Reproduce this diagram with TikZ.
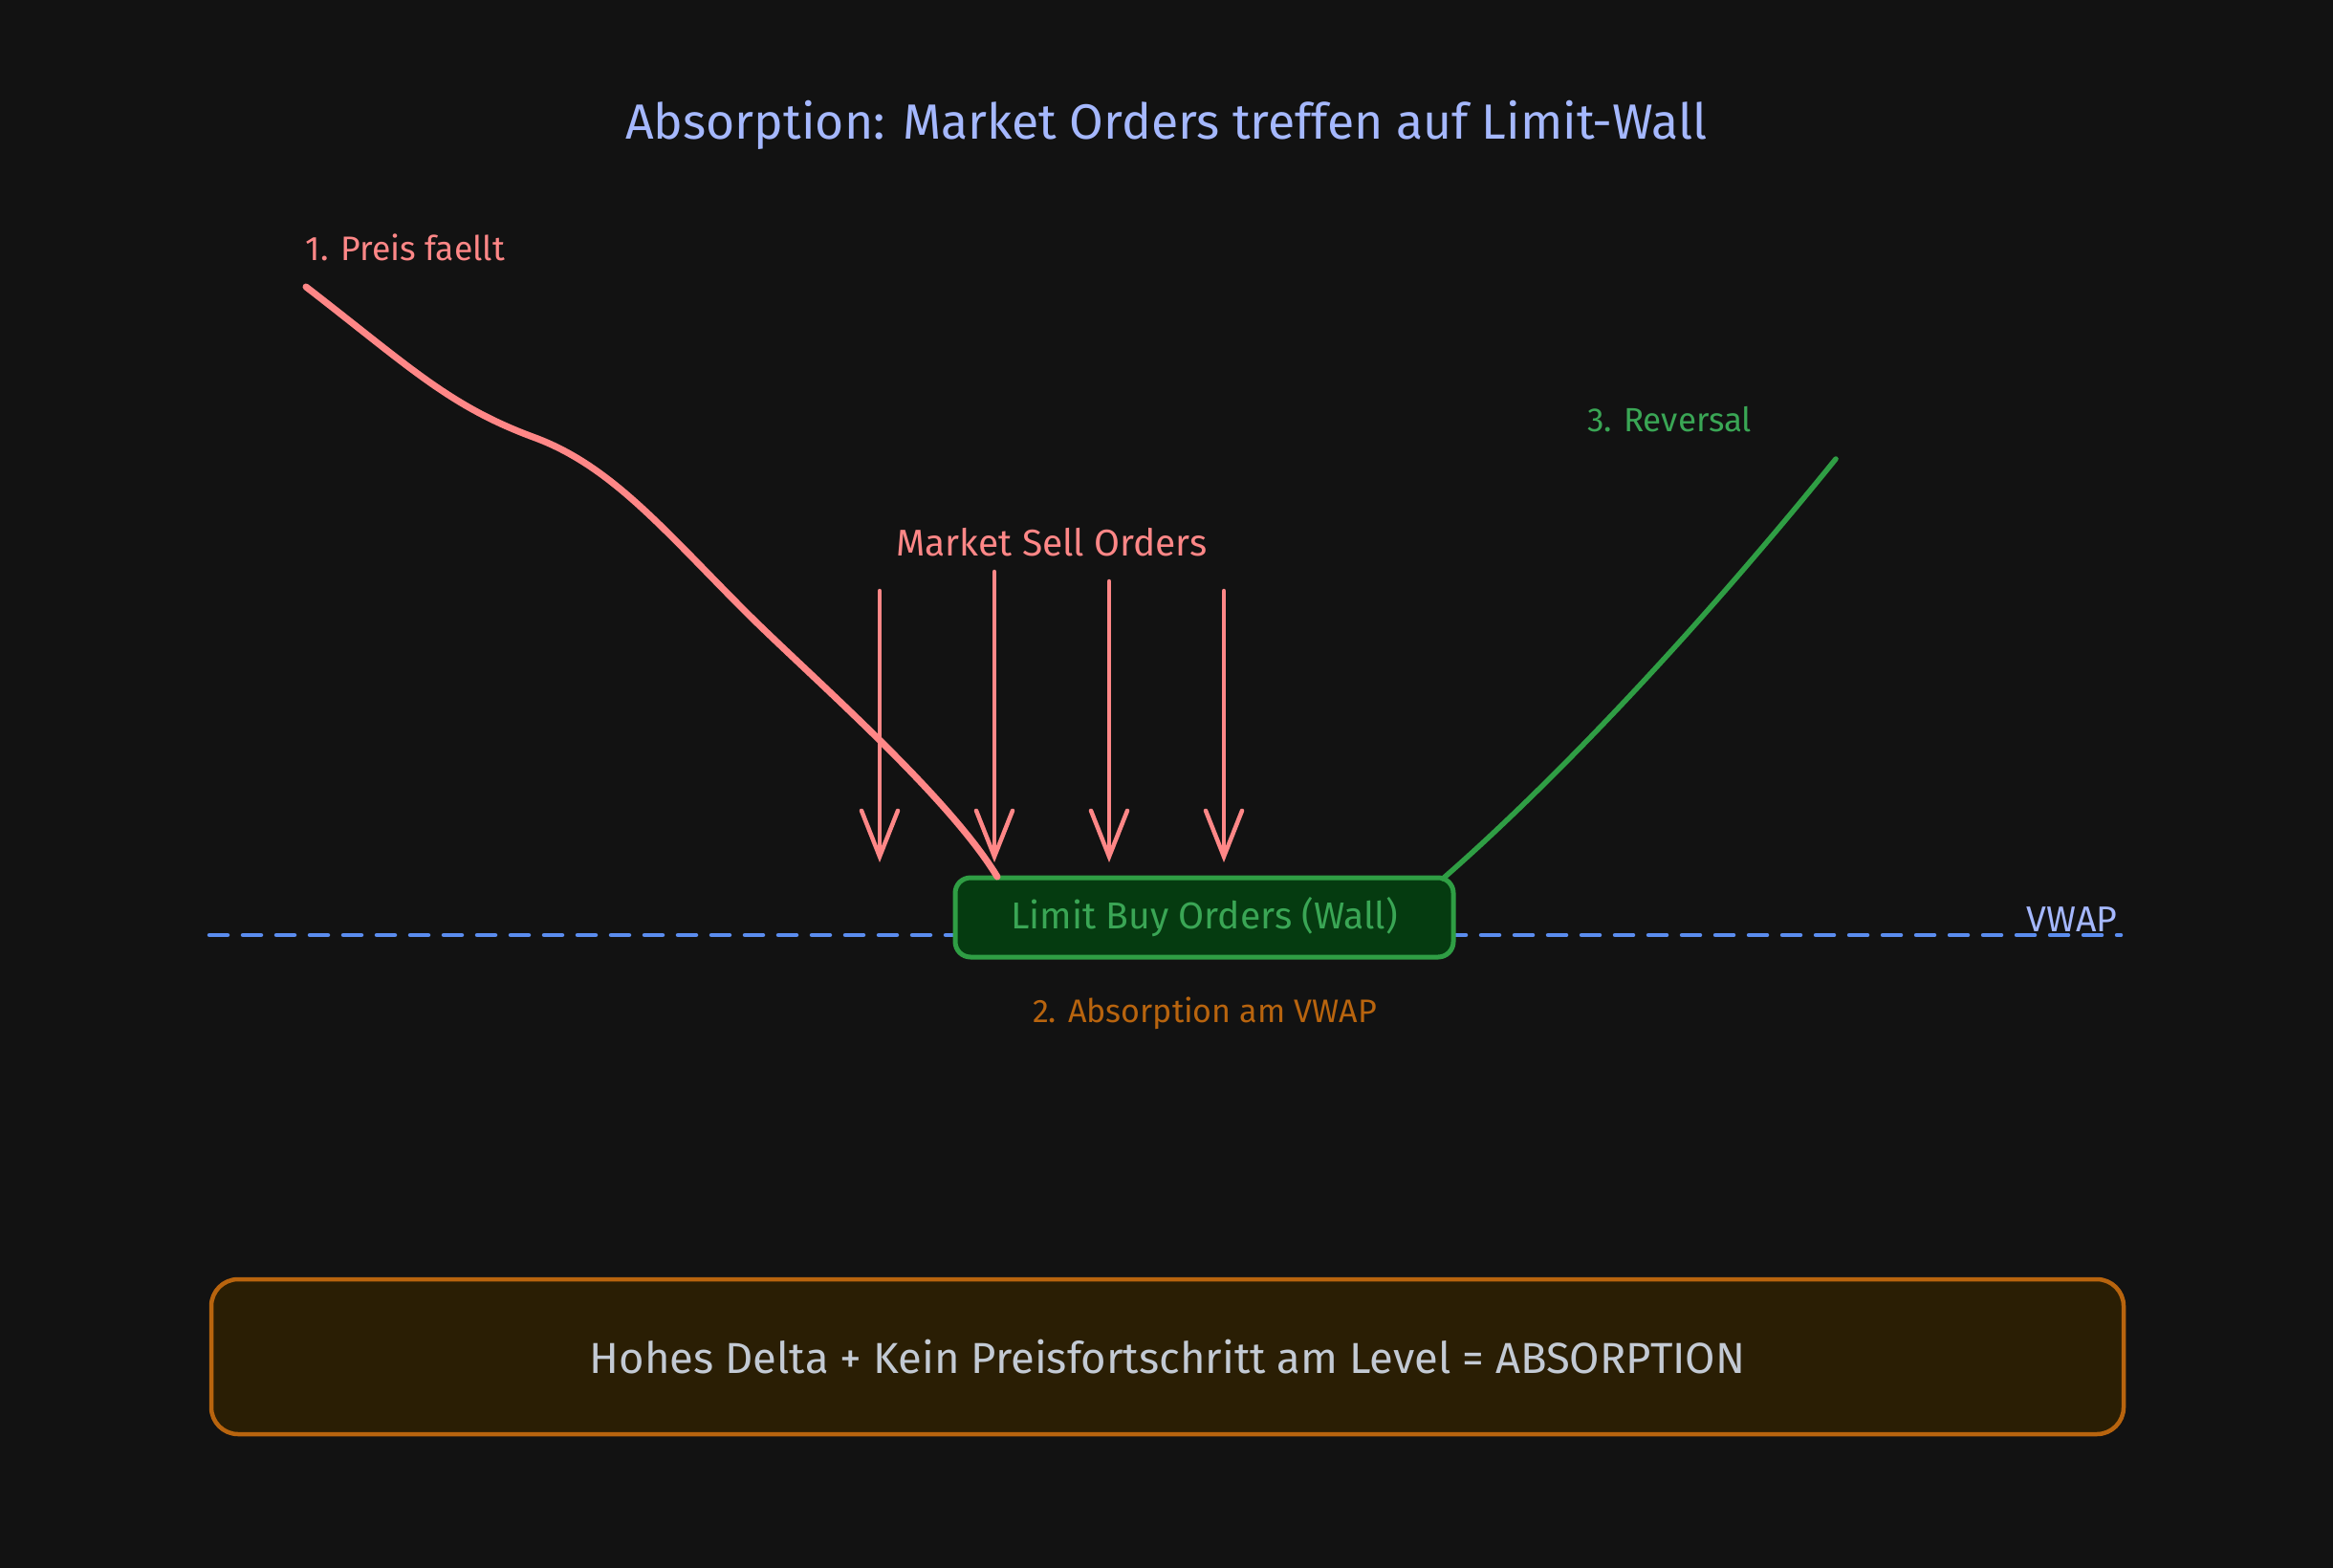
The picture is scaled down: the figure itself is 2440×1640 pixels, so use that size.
\documentclass[tikz,border=0pt]{standalone}
\usepackage{fontspec}
\usepackage{graphicx}
\setmainfont{Fira Sans}
\usetikzlibrary{arrows.meta}
\definecolor{bg}{HTML}{121212}
\definecolor{titlec}{HTML}{A5B8FF}
\definecolor{redc}{HTML}{FF8787}
\definecolor{greenc}{HTML}{2F9E44}
\definecolor{greentext}{HTML}{3AA655}
\definecolor{greenfill}{HTML}{053B10}
\definecolor{orangec}{HTML}{B8640E}
\definecolor{orangefill}{HTML}{2A1E04}
\definecolor{vwapc}{HTML}{5B8DEF}
\definecolor{graytext}{HTML}{C3CAD4}
\newcommand{\fitw}[2]{\resizebox{#1pt}{!}{#2}}
\tikzset{
  lbl/.style={inner sep=0pt, anchor=center},
  wallbox/.style={draw=greenc, fill=greenfill, line width=5pt, rounded corners=16pt, inner sep=0pt, text=greentext},
  botbox/.style={draw=orangec, fill=orangefill, line width=4.5pt, rounded corners=28pt, inner sep=0pt, text=graytext},
  sellarrow/.style={draw=redc, line width=4.5pt, line cap=round, line join=round, -{Straight Barb[length=48pt,width=38pt,line cap=round]}},
  pricedown/.style={draw=redc, line width=7pt, line cap=round, line join=round},
  priceup/.style={draw=greenc, line width=5.5pt, line cap=round, line join=round},
  vwapline/.style={draw=vwapc, line width=4.5pt, line cap=round, dash pattern=on 19pt off 16pt}
}
\begin{document}
\begin{tikzpicture}[x=1pt,y=-1pt]
\fill[bg] (0,0) rectangle (2440,1640);
\useasboundingbox (0,0) rectangle (2440,1640);

% title
\node[lbl, text=titlec] (title) at (1220,131) {\fitw{1131}{Absorption: Market Orders treffen auf Limit-Wall}};

% VWAP line
\coordinate (vwapL) at (219,978);
\coordinate (vwapR) at (2218,978);
\draw[vwapline] (vwapL) -- (vwapR);
\node[lbl, text=titlec] (vwaplbl) at (2167,962) {\fitw{95}{VWAP}};

% wall
\node[wallbox, minimum width=521pt, minimum height=83pt] (wall) at (1259.5,959.5) {\fitw{405}{Limit Buy Orders (Wall)}};
\node[lbl, text=orangec] (absorb) at (1260,1060) {\fitw{360}{2. Absorption am VWAP}};

% price falling
\node[lbl, text=redc] (preis) at (424,259) {\fitw{208}{1. Preis faellt}};
\coordinate (redstart) at (320,300);
\coordinate (redmid1) at (560,458);
\coordinate (redmid2) at (780,640);
\coordinate (redend) at (1043,917);
\draw[pricedown] (redstart) .. controls (430,385) and (470,425) .. (redmid1)
  .. controls (640,488) and (695,555) .. (redmid2)
  .. controls (845,705) and (990,830) .. (redend);

% market sell orders
\node[lbl, text=redc] (market) at (1100,567) {\fitw{325}{Market Sell Orders}};
\coordinate (a1s) at (920,618);  \coordinate (a1e) at (920,902);
\coordinate (a2s) at (1040,598); \coordinate (a2e) at (1040,902);
\coordinate (a3s) at (1160,608); \coordinate (a3e) at (1160,902);
\coordinate (a4s) at (1280,618); \coordinate (a4e) at (1280,902);
\draw[sellarrow] (a1s) -- (a1e);
\draw[sellarrow] (a2s) -- (a2e);
\draw[sellarrow] (a3s) -- (a3e);
\draw[sellarrow] (a4s) -- (a4e);

% reversal
\node[lbl, text=greentext] (reversal) at (1746,439) {\fitw{172}{3. Reversal}};
\coordinate (gstart) at (1509,919);
\coordinate (gend) at (1920,480);
\draw[priceup] (gstart) .. controls (1600,840) and (1750,690) .. (gend);

% summary
\node[botbox, minimum width=2000pt, minimum height=162pt] (summary) at (1221,1419) {\fitw{1208}{Hohes Delta + Kein Preisfortschritt am Level = ABSORPTION}};
\end{tikzpicture}
\end{document}
